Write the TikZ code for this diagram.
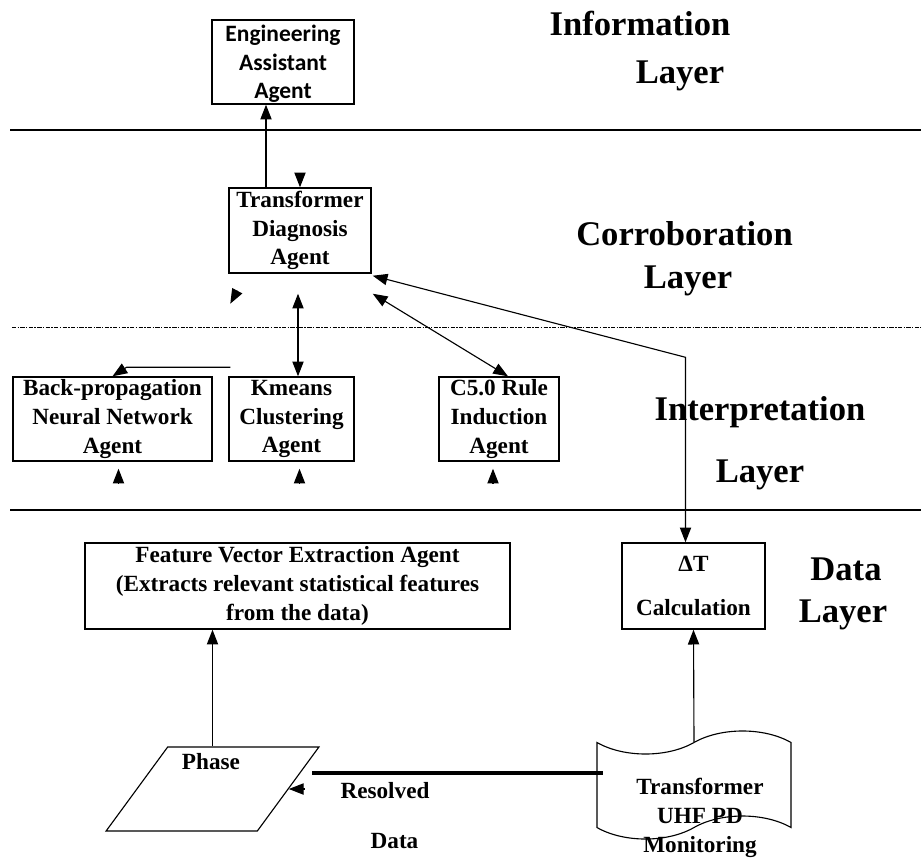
\documentclass[tikz,border=0pt]{standalone}
\usepackage{fontspec}
\setmainfont{Liberation Serif}
\newfontfamily\calibri{Carlito}
\usetikzlibrary{arrows.meta,calc,shapes.geometric,shapes.symbols}

\begin{document}
\begin{tikzpicture}[x=0.025cm,y=-0.025cm,
    agent/.style={draw, line width=1pt, align=center, inner sep=1pt,
        font=\bfseries\fontsize{16.5}{20.5}\selectfont},
    layertxt/.style={font=\bfseries\fontsize{24.6}{29}\selectfont, anchor=base},
    plain/.style={font=\bfseries\fontsize{16.5}{20.5}\selectfont, anchor=base, align=center},
    arr/.style={-{Triangle[length=10.5pt,width=8pt]}, line width=0.8pt},
    dbl/.style={{Triangle[length=10.5pt,width=8pt]}-{Triangle[length=10.5pt,width=8pt]}, line width=0.8pt}]
     \useasboundingbox (0,0) rectangle (921,858);

     %%%%%%%%%%%%%%%%%%%%%%%%%%%%%%%%%%%%%%%%%%
     %%% Layer borders
     %%%%%%%%%%%%%%%%%%%%%%%%%%%%%%%%%%%%%%%%%%
     \foreach \y in {130,510} % solid borders
         \draw[line width=1.6pt] (10,\y) -- (921,\y);
     \draw[line width=0.7pt, dash pattern=on 3pt off 1pt on 1pt off 1pt] (12,327) -- (921,327);

     % Layer names
     \node[layertxt] (info1) at (640,35) {Information};
     \node[layertxt] (info2) at (680,83) {Layer};
     \node[layertxt] (cor1) at (684.5,245) {Corroboration};
     \node[layertxt] (cor2) at (688,288) {Layer};
     \node[layertxt] (int1) at (760,420) {Interpretation};
     \node[layertxt] (int2) at (760,482) {Layer};
     \node[layertxt] (dat1) at (846,580) {Data};
     \node[layertxt] (dat2) at (843,622) {Layer};

     %%%%%%%%%%%%%%%%%%%%%%%%%%%%%%%%%%%%%%%%%%
     %%% Agents
     %%%%%%%%%%%%%%%%%%%%%%%%%%%%%%%%%%%%%%%%%%
     \node[agent, font=\calibri\bfseries\fontsize{16.7}{20.3}\selectfont, text depth=0pt,
           minimum width=3.55cm, minimum height=2.1cm] (eaa) at (283,62) {Engineering\\Assistant\\Agent};
     \node[agent, minimum width=3.55cm, minimum height=2.125cm] (td) at (300,230.5) {Transformer\\Diagnosis\\Agent};
     \node[agent, minimum width=4.975cm, minimum height=2.1cm] (bp) at (112.5,419) {Back-propagation\\Neural Network\\Agent};
     \node[agent, minimum width=3.125cm, minimum height=2.1cm] (km) at (291.5,419) {Kmeans\\Clustering\\Agent};
     \node[agent, minimum width=3cm, minimum height=2.1cm] (c50) at (499,419) {C5.0 Rule\\Induction\\Agent};
     \node[agent, minimum width=10.625cm, minimum height=2.15cm] (fve) at (297.5,586)
         {Feature Vector Extraction Agent\\(Extracts relevant statistical features\\from the data)};
     \node[agent, minimum width=3.575cm, minimum height=2.15cm] (dt) at (693.5,586) {ΔT\\[11pt]Calculation};

     % Phase resolved data
     \node[draw, trapezium, trapezium left angle=55.5, trapezium right angle=124.5, trapezium stretches=true,
           minimum width=5.325cm, minimum height=2.1cm, line width=0.8pt] (phase) at (212.5,789) {};
     \node[plain] (phasetxt) at (211,769) {Phase};
     \node[plain] (restxt) at (385,798) {Resolved};
     \node[plain] (datatxt) at (394.5,848) {Data};

     % Monitoring document
     \node[draw, tape, tape bend top=in and out, tape bend bottom=in and out, tape bend height=0.575cm,
           minimum width=4.85cm, minimum height=2.7cm, line width=0.8pt] (uhf) at (694,785) {};
     \node[plain, anchor=center, inner sep=0pt] (uhftxt) at (700,818) {Transformer\\UHF PD\\Monitoring};

     %%%%%%%%%%%%%%%%%%%%%%%%%%%%%%%%%%%%%%%%%%
     %%% Connectors
     %%%%%%%%%%%%%%%%%%%%%%%%%%%%%%%%%%%%%%%%%%
     \coordinate (tdup) at ($(td.north)+(-34,0)$);
     \coordinate (tdlow) at ($(td.south)+(-2,20)$);
     \draw[arr] (tdup) -- (tdup |- eaa.south);
     \draw[arr] (td.north) ++(0,-14) -- (td.north);
     \draw[arr] ($(td.south west)+(9,17)$) -- ($(td.south west)+(2,30)$);
     \draw[dbl] (tdlow) -- (tdlow |- km.north);
     \draw[dbl] ($(td.south east)+(1,20)$) -- ($(c50.north)+(9,0)$);
     \draw[dbl] ($(td.south east)+(1,2)$) -- ($(dt.north)+(-8,-185)$) -- ($(dt.north)+(-8,0)$);
     \draw[arr] ($(km.north west)+(2,-9)$) -- ($(bp.north)+(14,-9)$) -- (bp.north);
     % heads under the interpretation agents
     \foreach \n/\dx in {bp/6,km/8,c50/-6}
         \draw[arr] ($(\n.south)+(\dx,21)$) -- ($(\n.south)+(\dx,7)$);

     % Data layer
     \draw[arr] (phase.center |- phase.north) -- (phase.center |- fve.south);
     \draw[arr] (uhf.north) -- (dt.south);
     \coordinate (busL) at (312,773);
     \coordinate (busR) at (603,773);
     \draw[line width=3pt] (busL) -- (busR);
     \draw[arr] (phase.east) ++(16,0) -- (phase.east);
\end{tikzpicture}
\end{document}
